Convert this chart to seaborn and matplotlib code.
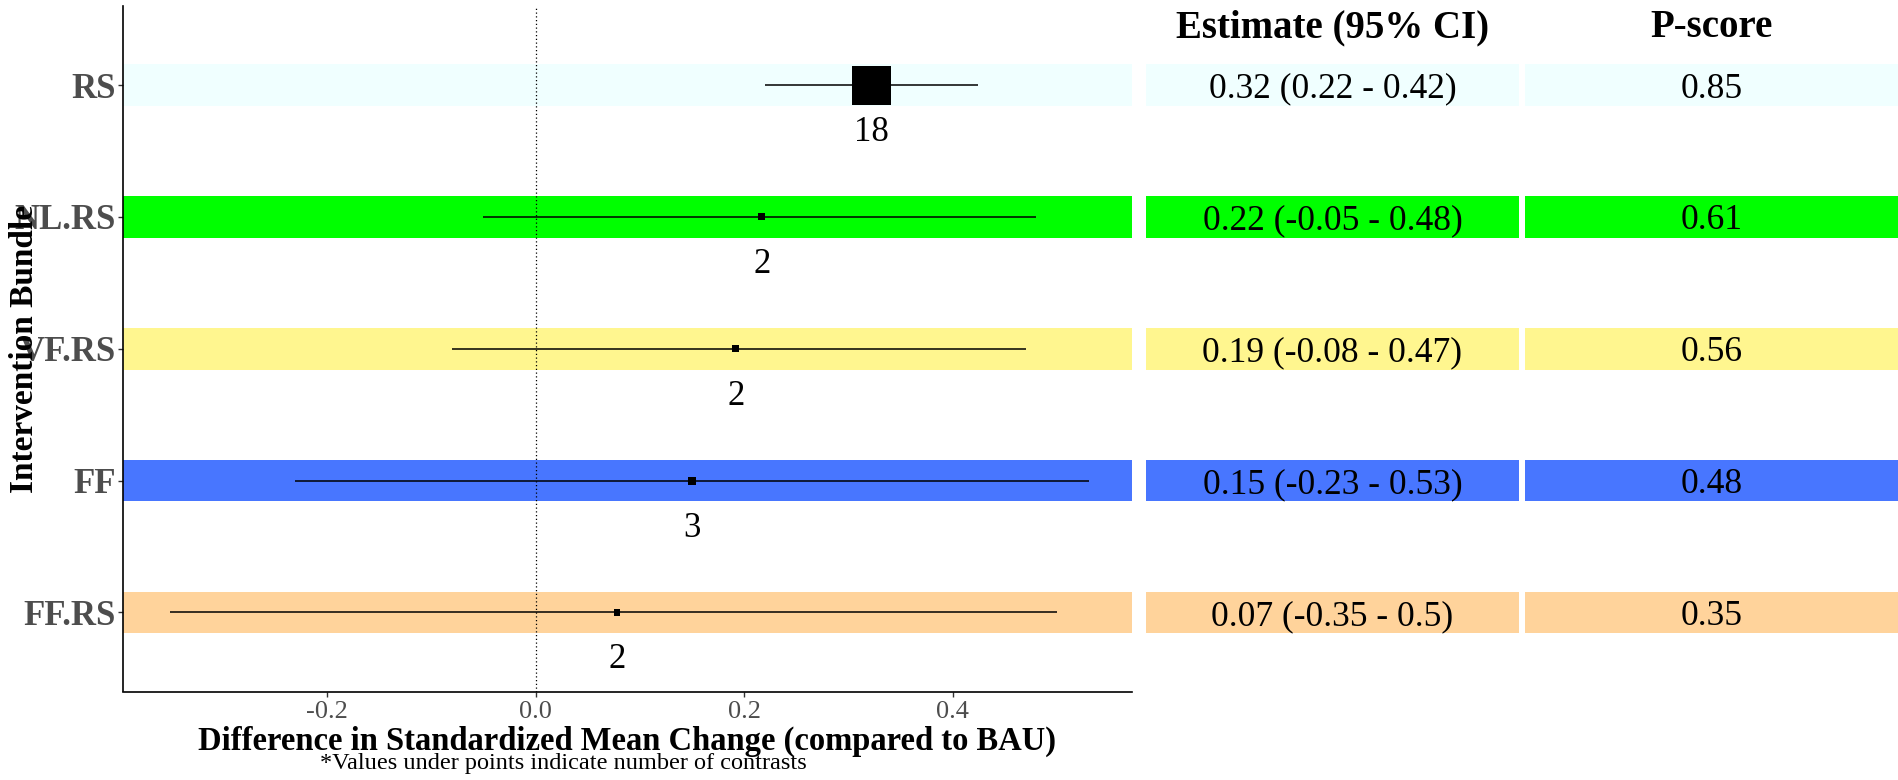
import numpy as np
import pandas as pd
import matplotlib
matplotlib.use("Agg")
import matplotlib.pyplot as plt
import seaborn as sns

# data, top row first
bundles = ["RS", "NL.RS", "VF.RS", "FF", "FF.RS"]
estimate = [0.322, 0.217, 0.192, 0.15, 0.078]
ci_low = [0.22, -0.05, -0.08, -0.23, -0.35]
ci_high = [0.424, 0.48, 0.47, 0.53, 0.50]
n_contrasts = [18, 2, 2, 3, 2]
estimate_text = ["0.32 (0.22 - 0.42)", "0.22 (-0.05 - 0.48)", "0.19 (-0.08 - 0.47)",
                 "0.15 (-0.23 - 0.53)", "0.07 (-0.35 - 0.5)"]
p_score = ["0.85", "0.61", "0.56", "0.48", "0.35"]

# styling
band_colors = ["#F0FFFF", "#00FF00", "#FFF68F", "#4876FF", "#FFD39B"]
box_px = [39, 7, 7, 8, 6.5]  # square side in pixels (weight)

sns.set_theme(style="white")
plt.rcParams["font.family"] = ["Liberation Serif", "DejaVu Serif"]

df = pd.DataFrame({
    "bundle": bundles,
    "est": estimate,
    "lo": ci_low,
    "hi": ci_high,
    "n": n_contrasts,
})
df["ypos"] = np.arange(len(df))[::-1] + 1

W, H = 1899, 780
fig = plt.figure(figsize=(W / 100, H / 100), dpi=100)

def px_axes(x0, x1, y0, y1):
    return [x0 / W, 1 - y1 / H, (x1 - x0) / W, (y1 - y0) / H]

ax = fig.add_axes(px_axes(123.3, 1131.7, 6, 691.5))
ax_est = fig.add_axes(px_axes(1146, 1519, 6, 691.5), sharey=ax)
ax_p = fig.add_axes(px_axes(1525, 1899, 6, 691.5), sharey=ax)

xlim = (-0.395, 0.5713)
ylim = (0.4, 5.6)
band_h = 0.317

# background bands
for y, c in zip(df["ypos"], band_colors):
    for a in (ax, ax_est, ax_p):
        a.axhspan(y - band_h / 2, y + band_h / 2, color=c, lw=0, zorder=0)

ax.axvline(0, color="black", ls=(0, (1, 2)), lw=0.9, zorder=1)
ax.hlines(df["ypos"], df["lo"], df["hi"], color="black", lw=1.1, zorder=2)

sizes = {b: (p * 0.72) ** 2 for b, p in zip(bundles, box_px)}
sns.scatterplot(data=df, x="est", y="ypos", size="bundle", sizes=sizes,
                marker="s", color="black", edgecolor="none", linewidth=0,
                legend=False, ax=ax, zorder=3)

for _, r in df.iterrows():
    ax.text(r["est"], r["ypos"] - 0.36, str(r["n"]), ha="center", va="center",
            fontsize=25, color="black")

ax.set_xlim(*xlim)
ax.set_ylim(*ylim)
ax.set_xticks([-0.2, 0.0, 0.2, 0.4])
ax.set_xticklabels(["-0.2", "0.0", "0.2", "0.4"])
ax.set_yticks(df["ypos"])
ax.set_yticklabels(df["bundle"], fontweight="bold")
ax.tick_params(axis="x", labelsize=19, labelcolor="#4D4D4D", length=3.5,
               color="#333333", width=1, pad=3, bottom=True)
ax.tick_params(axis="y", labelsize=25, labelcolor="#4D4D4D", length=3.5,
               color="#333333", width=1, pad=2, left=True)
for side in ["top", "right"]:
    ax.spines[side].set_visible(False)
for side in ["left", "bottom"]:
    ax.spines[side].set_color("black")
    ax.spines[side].set_linewidth(1.2)

ax.set_xlabel("Difference in Standardized Mean Change (compared to BAU)",
              fontsize=23.5, fontweight="bold", color="black", labelpad=2)
ax.set_ylabel("Intervention Bundle", fontsize=24, fontweight="bold", color="black")
ax.yaxis.set_label_coords(-0.083, 0.5)
fig.text(563 / W, 1 - 764 / H, "*Values under points indicate number of contrasts",
         ha="center", va="center", fontsize=17.5, color="black")

# table columns
for tax, texts, head in [(ax_est, estimate_text, "Estimate (95% CI)"),
                         (ax_p, p_score, "P-score")]:
    tax.set_xlim(0, 1)
    tax.axis("off")
    for y, t in zip(df["ypos"], texts):
        tax.text(0.5, y - 0.03, t, ha="center", va="center", fontsize=25.5, color="black")
    tax.text(0.5, 0.968, head, transform=tax.transAxes, ha="center", va="center",
             fontsize=28, fontweight="bold", color="black")

fig.savefig("out.png", dpi=100)
